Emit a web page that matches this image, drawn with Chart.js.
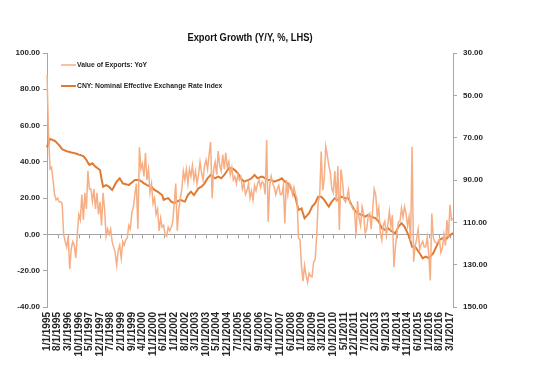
<!DOCTYPE html>
<html>
<head>
<meta charset="utf-8">
<script src="https://cdn.jsdelivr.net/npm/chart.js@4.4.0/dist/chart.umd.min.js"></script>
<style>
  html, body { margin: 0; padding: 0; background: #fff; }
</style>
</head>
<body>
<canvas id="myChart" width="551" height="374"></canvas>
<script>
// monthly data, first point 1/1/1995
const startYear = 1995;

const exportsYoY = [
  88, 56, 36, 37, 30, 22, 19, 20, 18, 18, 17, 0,
  -4, -7, -1, -19, -8, -4, -6, -13, 0, 11, 8, 22,
  8, 23, 14, 35, 25, 25, 18, 25, 14, 23, 11, 18,
  5, 23, 14, -1, 3, 0, 3, -4, -7, -10, -17, -9,
  -6, -13, -4, -6, -3, -2, 5, 3, 12, 15, 22, 28,
  3, 48, 36, 39, 32, 45, 30, 36, 23, 28, 17, 20,
  11, 14, 2, 9, 4, 5, 0, -1, 4, 2, 4, 7,
  17, 28, 2, 14, 20, 25, 35, 30, 36, 28, 36, 32,
  38, 30, 35, 28, 33, 40, 34, 30, 38, 41, 36, 44,
  51, 20, 36, 40, 33, 46, 38, 35, 44, 36, 45, 37,
  40, 33, 37, 30, 32, 28, 33, 30, 32, 25, 28, 22,
  24, 28, 20, 24, 19, 27, 24, 28, 30, 26, 29, 28,
  22, 52, 7, 27, 32, 28, 26, 22, 25, 27, 22, 22,
  27, 6, 30, 22, 28, 27, 22, 26, 22, 20, -2, -3,
  -17.5, -25.7, -17.1, -22.6, -26.4, -21.4, -23, -23.4, -15.2, -13.8, -1.2, 17.7,
  21, 45.7, 24.3, 30.5, 48.5, 43.9, 38.1, 34.4, 25.1, 22.9, 34.9, 17.9,
  37.7, 2.4, 35.8, 29.9, 19.4, 17.9, 20.4, 24.5, 17.1, 15.9, 13.8, 13.4,
  -0.5, 18.4, 8.9, 4.9, 15.3, 11.3, 1, 2.7, 9.9, 11.6, 2.9, 14.1,
  25, 21.8, 10, 14.7, 1, -3.1, 5.1, 7.2, -0.3, 5.6, 12.7, 4.3,
  10.6, -18.1, -6.6, 0.9, 7, 7.2, 14.5, 9.4, 15.3, 11.6, 4.7, 9.7,
  -3.3, 48.3, -15, -6.4, -2.5, 2.8, -8.3, -5.5, -3.7, -6.9, -6.8, -1.4,
  -11.2, -25.4, 11.5, -1.8, -4.1, -4.8, -4.4, -2.8, -10, -7.3, 0.1, -6.1,
  7.9, -1.3, 16.4, 8, 8.7
];

const cnyIndex = [
  74.6, 72.5, 70.6, 70.8, 71.2, 71.4, 72, 72.8, 73.5, 74.5, 75.5, 75.8,
  76.1, 76.4, 76.6, 76.8, 77, 77.1, 77.3, 77.5, 77.7, 78, 78.2, 78.5,
  78.7, 79.6, 80.5, 81.8, 82.9, 82.5, 82.1, 83, 83.7, 84.2, 84.8, 85.3,
  89.5, 93.2, 92.8, 92.4, 92.8, 93.2, 94, 94.7, 93.4, 92, 90.8, 90,
  89.2, 90.4, 91.6, 91.8, 92, 92.2, 92.4, 91.8, 91.2, 90.6, 90, 90,
  90, 90, 90.5, 91, 91.6, 92, 92.4, 92.7, 93, 93.2, 94, 94.7,
  95.1, 95.5, 96, 96.6, 97.1, 99.4, 99, 98.8, 98.6, 99.4, 100.2, 100.6,
  101, 100.6, 100.2, 99.8, 99.4, 99.7, 100, 100.2, 98.7, 97.1, 96.3, 95.5,
  96.3, 97.1, 96, 95, 93.9, 93.5, 93.2, 92.4, 91.6, 90.4, 89.2, 88.4,
  87.6, 88.2, 88.7, 89.2, 88.8, 88.4, 88.8, 89.2, 88.4, 87.6, 86.6, 85.5,
  84.5, 84.5, 84.5, 84.9, 85.3, 86.1, 86.9, 88, 89.2, 90, 90.8, 90.5,
  90.2, 90, 89.6, 89.2, 88.4, 87.6, 88.4, 89.2, 88.9, 88.6, 88.4, 88.8,
  89.2, 89.6, 90, 90, 90, 90.4, 90.8, 90.5, 90.2, 90, 89.6, 89.2,
  90, 90.8, 91.2, 91.6, 92.8, 93.9, 95.4, 96.8, 98.3, 101.2, 104.2, 103.8,
  103.4, 105.7, 108.1, 107.3, 106.5, 105.7, 104.1, 102.6, 101.8, 101, 99.4, 97.9,
  97.9, 97.9, 98.6, 99.4, 100.5, 101.6, 102.6, 101.4, 100.2, 99.4, 98.6, 99,
  99.4, 98.6, 97.9, 98.1, 98.4, 98.6, 98.6, 98.6, 100.2, 101.8, 103, 104.2,
  105, 105.7, 106, 106.3, 106.5, 106.9, 107.3, 106.9, 106.5, 106.9, 107.3, 107.6,
  107.8, 108.1, 108.9, 109.7, 111.2, 112.8, 113.2, 113.6, 113.2, 112.8, 113.3, 113.9,
  114.4, 114.8, 115.1, 113.6, 112, 111.2, 110.4, 111.2, 112, 113.6, 115.1, 116.7,
  119.1, 121.5, 121.5, 121.5, 122.5, 123.6, 124.6, 125.8, 127, 126.6, 126.2, 126.6,
  127, 126.2, 125.4, 124.6, 123, 121.5, 119.9, 118.3, 117.9, 117.5, 117.9, 118.3,
  117.5, 116.7, 116.1, 115.6, 115.1
];

const leftTicks = [-40, -20, 0, 20, 40, 60, 80, 100];
const rightTicks = [30, 50, 70, 90, 110, 130, 150];
const labelEvery = 7;

var dates = [];
for (var i = 0; i < exportsYoY.length; i++) {
  dates.push((i % 12 + 1) + '/1/' + (startYear + Math.floor(i / 12)));
}

const axisGrey = '#a6a6a6';
const textCol = '#262626';
const sans = "'Liberation Sans', Arial, sans-serif";
const yFont = { family: sans, size: 8, weight: 'bold' };
const xFont = { family: sans, size: 10, weight: 'bold' };
const squeeze = 0.85; // narrower text, closer to the Calibri look

function narrowText(ctx, text, x, y) {
  ctx.save();
  ctx.translate(x, y);
  ctx.scale(squeeze, 1);
  ctx.fillText(text, 0, 0);
  ctx.restore();
}

// title, a little left of the plot centre like the original
const titlePlugin = {
  id: 'plotTitle',
  afterDraw(chart) {
    const ctx = chart.ctx, a = chart.chartArea;
    ctx.save();
    ctx.font = 'bold 11px ' + sans;
    ctx.fillStyle = '#111';
    ctx.textAlign = 'center';
    ctx.textBaseline = 'middle';
    narrowText(ctx, 'Export Growth (Y/Y, %, LHS)', (a.left + a.right) / 2, 38);
    ctx.restore();
  }
};

// legend inside the plot, top left
const legendPlugin = {
  id: 'innerLegend',
  afterDraw(chart) {
    const ctx = chart.ctx;
    ctx.save();
    ctx.font = 'bold 8px ' + sans;
    ctx.textBaseline = 'middle';
    chart.data.datasets.forEach(function (ds, k) {
      var y = 65 + k * 21;
      ctx.strokeStyle = ds.borderColor;
      ctx.lineWidth = ds.borderWidth;
      ctx.beginPath();
      ctx.moveTo(61, y);
      ctx.lineTo(76, y);
      ctx.stroke();
      ctx.fillStyle = textCol;
      narrowText(ctx, ds.label, 77, y);
    });
    ctx.restore();
  }
};

// small tick marks on the zero line
const zeroTicksPlugin = {
  id: 'zeroTicks',
  beforeDatasetsDraw(chart) {
    const ctx = chart.ctx, xs = chart.scales.x, ys = chart.scales.y;
    const y0 = ys.getPixelForValue(0);
    ctx.save();
    ctx.strokeStyle = axisGrey;
    ctx.lineWidth = 1;
    for (var i = 0; i < dates.length; i += labelEvery) {
      var x = Math.round(xs.getPixelForValue(i)) + 0.5;
      ctx.beginPath();
      ctx.moveTo(x, y0);
      ctx.lineTo(x, y0 + 4);
      ctx.stroke();
    }
    ctx.restore();
  }
};

var myChart = document.getElementById('myChart').getContext('2d');
var chart = new Chart(myChart, {
  type: 'line',
  data: {
    labels: dates,
    datasets: [
      {
        label: 'Value of Exports: YoY',
        data: exportsYoY,
        borderColor: '#f6ae84',
        borderWidth: 1.5,
        pointRadius: 0,
        yAxisID: 'y'
      },
      {
        label: 'CNY: Nominal Effective Exchange Rate Index',
        data: cnyIndex,
        borderColor: '#e07a30',
        borderWidth: 2,
        pointRadius: 0,
        yAxisID: 'y1'
      }
    ]
  },
  options: {
    responsive: false,
    animation: false,
    devicePixelRatio: 1,
    layout: { padding: { top: 53, left: 0, right: 0, bottom: 0 } },
    plugins: { legend: { display: false }, title: { display: false }, tooltip: { enabled: false } },
    scales: {
      x: {
        type: 'category',
        grid: { display: false, drawTicks: false },
        border: { display: false },
        ticks: {
          autoSkip: false,
          maxRotation: 90,
          minRotation: 90,
          padding: 5,
          color: textCol,
          font: xFont,
          callback: function (v, idx) { return idx % labelEvery === 0 ? dates[idx] : ''; }
        },
        afterFit: function (s) { s.height = 67; }
      },
      y: {
        position: 'left',
        min: leftTicks[0],
        max: leftTicks[leftTicks.length - 1],
        ticks: { stepSize: 20, color: textCol, font: yFont, padding: 3,
                 callback: function (v) { return v.toFixed(2); } },
        grid: {
          drawOnChartArea: true,
          color: function (c) { return c.tick && c.tick.value === 0 ? axisGrey : 'rgba(0,0,0,0)'; },
          tickColor: axisGrey,
          tickLength: 4
        },
        border: { color: axisGrey },
        afterFit: function (s) { s.width = 47; }
      },
      y1: {
        position: 'right',
        reverse: true,
        min: rightTicks[0],
        max: rightTicks[rightTicks.length - 1],
        ticks: { stepSize: 20, color: textCol, font: yFont, padding: 6,
                 callback: function (v) { return v.toFixed(2); } },
        grid: { drawOnChartArea: false, tickColor: axisGrey, tickLength: 4 },
        border: { color: axisGrey },
        afterFit: function (s) { s.width = 98; }
      }
    }
  },
  plugins: [zeroTicksPlugin, titlePlugin, legendPlugin]
});
</script>
</body>
</html>
